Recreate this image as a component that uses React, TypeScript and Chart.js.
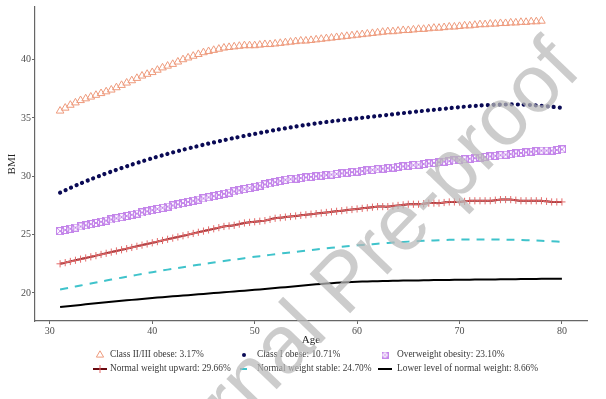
import React, { useEffect, useRef } from "react";
import { Chart, registerables } from "chart.js";

Chart.register(...registerables);

// ---------- data ----------
// yearly ages (smooth lines)
const ages = [31, 32, 33, 34, 35, 36, 37, 38, 39, 40, 41, 42, 43, 44, 45, 46, 47, 48, 49, 50,
  51, 52, 53, 54, 55, 56, 57, 58, 59, 60, 61, 62, 63, 64, 65, 66, 67, 68, 69, 70,
  71, 72, 73, 74, 75, 76, 77, 78, 79, 80];

// half-year ages (marker series)
const markerAges = [31, 31.5, 32, 32.5, 33, 33.5, 34, 34.5, 35, 35.5, 36, 36.5, 37, 37.5, 38, 38.5, 39, 39.5, 40, 40.5,
  41, 41.5, 42, 42.5, 43, 43.5, 44, 44.5, 45, 45.5, 46, 46.5, 47, 47.5, 48, 48.5, 49, 49.5, 50, 50.5,
  51, 51.5, 52, 52.5, 53, 53.5, 54, 54.5, 55, 55.5, 56, 56.5, 57, 57.5, 58, 58.5, 59, 59.5, 60, 60.5,
  61, 61.5, 62, 62.5, 63, 63.5, 64, 64.5, 65, 65.5, 66, 66.5, 67, 67.5, 68, 68.5, 69, 69.5, 70, 70.5,
  71, 71.5, 72, 72.5, 73, 73.5, 74, 74.5, 75, 75.5, 76, 76.5, 77, 77.5, 78, 78.5, 79, 79.5, 80];

const classIIIII = [35.6, 35.85, 36.1, 36.3, 36.5, 36.65, 36.8, 36.95, 37.1, 37.25, 37.4, 37.6, 37.8, 38.0, 38.2, 38.4, 38.6, 38.75, 38.9, 39.1,
  39.3, 39.45, 39.6, 39.8, 40.0, 40.15, 40.3, 40.45, 40.6, 40.7, 40.8, 40.9, 41.0, 41.05, 41.1, 41.15, 41.2, 41.2, 41.2, 41.25,
  41.3, 41.3, 41.35, 41.4, 41.45, 41.5, 41.55, 41.6, 41.6, 41.65, 41.7, 41.75, 41.8, 41.85, 41.9, 41.95, 42.0, 42.05, 42.1, 42.15,
  42.2, 42.25, 42.3, 42.35, 42.4, 42.4, 42.45, 42.5, 42.5, 42.55, 42.6, 42.6, 42.65, 42.7, 42.7, 42.75, 42.8, 42.8, 42.85, 42.9,
  42.9, 42.95, 43.0, 43.0, 43.05, 43.05, 43.1, 43.1, 43.15, 43.15, 43.2, 43.2, 43.25, 43.25, 43.3];

const classI = [28.6, 29.0, 29.38, 29.74, 30.08, 30.4, 30.7, 31.0, 31.28, 31.55, 31.8, 32.04, 32.27, 32.49, 32.7, 32.9, 33.09, 33.28, 33.46, 33.63,
  33.8, 33.96, 34.11, 34.26, 34.4, 34.53, 34.65, 34.76, 34.86, 34.96, 35.06, 35.16, 35.26, 35.36, 35.46, 35.56, 35.65, 35.74, 35.83, 35.92,
  36.0, 36.06, 36.11, 36.14, 36.15, 36.14, 36.1, 36.04, 35.96, 35.86];

const overweightObesity = [25.3, 25.4, 25.5, 25.6, 25.7, 25.8, 25.9, 26.0, 26.1, 26.2, 26.3, 26.4, 26.5, 26.6, 26.7, 26.8, 26.9, 27.0, 27.1, 27.2,
  27.3, 27.4, 27.5, 27.6, 27.7, 27.8, 27.9, 28.0, 28.1, 28.2, 28.3, 28.4, 28.5, 28.6, 28.7, 28.8, 28.9, 29.0, 29.1, 29.2,
  29.3, 29.4, 29.5, 29.6, 29.7, 29.75, 29.8, 29.85, 29.9, 29.95, 30.0, 30.05, 30.1, 30.15, 30.2, 30.25, 30.3, 30.35, 30.4, 30.45,
  30.5, 30.55, 30.6, 30.65, 30.7, 30.75, 30.8, 30.85, 30.9, 30.95, 31.0, 31.05, 31.1, 31.15, 31.2, 31.25, 31.3, 31.35, 31.4, 31.45,
  31.5, 31.55, 31.6, 31.65, 31.7, 31.75, 31.8, 31.85, 31.9, 31.95, 32.0, 32.05, 32.1, 32.15, 32.2, 32.2, 32.2, 32.25, 32.3];

const normalUpward = [22.5, 22.6, 22.7, 22.8, 22.9, 23.0, 23.1, 23.2, 23.3, 23.4, 23.5, 23.6, 23.7, 23.8, 23.9, 24.0, 24.1, 24.2, 24.3, 24.4,
  24.5, 24.6, 24.7, 24.8, 24.9, 25.0, 25.1, 25.2, 25.3, 25.4, 25.5, 25.6, 25.7, 25.75, 25.8, 25.9, 26.0, 26.05, 26.1, 26.15,
  26.2, 26.3, 26.4, 26.45, 26.5, 26.55, 26.6, 26.65, 26.7, 26.75, 26.8, 26.85, 26.9, 26.95, 27.0, 27.05, 27.1, 27.15, 27.2, 27.25,
  27.3, 27.35, 27.4, 27.4, 27.4, 27.45, 27.5, 27.55, 27.6, 27.6, 27.6, 27.65, 27.7, 27.7, 27.7, 27.75, 27.8, 27.8, 27.8, 27.85,
  27.9, 27.9, 27.9, 27.9, 27.9, 27.95, 28.0, 28.0, 28.0, 27.95, 27.9, 27.9, 27.9, 27.9, 27.9, 27.85, 27.8, 27.8, 27.8];

const normalStable = [20.3, 20.47, 20.64, 20.81, 20.98, 21.15, 21.31, 21.47, 21.63, 21.78, 21.93, 22.07, 22.21, 22.35, 22.48, 22.61, 22.74, 22.86, 22.98, 23.1,
  23.21, 23.32, 23.43, 23.53, 23.63, 23.73, 23.82, 23.91, 24.0, 24.08, 24.15, 24.22, 24.29, 24.35, 24.4, 24.45, 24.49, 24.52, 24.55, 24.57,
  24.58, 24.59, 24.59, 24.58, 24.56, 24.54, 24.51, 24.47, 24.43, 24.38];

const lowerNormal = [18.8, 18.89, 18.98, 19.07, 19.16, 19.25, 19.33, 19.41, 19.49, 19.57, 19.64, 19.71, 19.78, 19.85, 19.92, 19.99, 20.06, 20.13, 20.2, 20.27,
  20.34, 20.42, 20.5, 20.58, 20.66, 20.74, 20.81, 20.87, 20.92, 20.96, 20.99, 21.01, 21.03, 21.05, 21.07, 21.08, 21.1, 21.11, 21.12, 21.13,
  21.14, 21.15, 21.16, 21.17, 21.18, 21.19, 21.2, 21.21, 21.22, 21.23];

const seriesLabels = [
  "Class II/III obese: 3.17%",
  "Class I obese: 10.71%",
  "Overweight obesity: 23.10%",
  "Normal weight upward: 29.66%",
  "Normal weight stable: 24.70%",
  "Lower level of normal weight: 8.66%",
];

const xTicks = [30, 40, 50, 60, 70, 80];
const yTicks = [20, 25, 30, 35, 40];

// ---------- styles ----------
const C_TRI = "#EE9A7C";
const C_NAVY = "#0A0A55";
const C_PURPLE = "#C486EA";
const C_RED_LINE = "#6A0A10";
const C_RED_PT = "#E46A6A";
const C_CYAN = "#3FC3CB";
const C_BLACK = "#000000";
const SERIF = '"Liberation Serif", "DejaVu Serif", serif';

function makeBoxX(size: number, color: string) {
  const c = document.createElement("canvas");
  c.width = size;
  c.height = size;
  const g = c.getContext("2d")!;
  g.strokeStyle = color;
  g.lineWidth = 1;
  g.strokeRect(0.5, 0.5, size - 1, size - 1);
  g.beginPath();
  g.moveTo(0.5, 0.5);
  g.lineTo(size - 0.5, size - 0.5);
  g.moveTo(size - 0.5, 0.5);
  g.lineTo(0.5, size - 0.5);
  g.stroke();
  return c;
}

function toPts(xs: number[], vals: number[]) {
  return vals.map((v, i) => ({ x: xs[i], y: v }));
}

function drawSymbol(ctx: CanvasRenderingContext2D, i: number, x: number, y: number, boxImg: HTMLCanvasElement) {
  ctx.save();
  if (i === 0) {
    const r = 4.2;
    ctx.strokeStyle = C_TRI;
    ctx.lineWidth = 1;
    ctx.beginPath();
    ctx.moveTo(x, y - r);
    ctx.lineTo(x + r * 0.866, y + r * 0.5);
    ctx.lineTo(x - r * 0.866, y + r * 0.5);
    ctx.closePath();
    ctx.stroke();
  } else if (i === 1) {
    ctx.fillStyle = C_NAVY;
    ctx.beginPath();
    ctx.arc(x, y, 2, 0, Math.PI * 2);
    ctx.fill();
  } else if (i === 2) {
    ctx.drawImage(boxImg, x - boxImg.width / 2, y - boxImg.height / 2);
  } else if (i === 3) {
    ctx.strokeStyle = C_RED_LINE;
    ctx.lineWidth = 2;
    ctx.beginPath();
    ctx.moveTo(x - 7, y);
    ctx.lineTo(x + 7, y);
    ctx.stroke();
    ctx.strokeStyle = C_RED_PT;
    ctx.lineWidth = 1;
    ctx.beginPath();
    ctx.moveTo(x, y - 4);
    ctx.lineTo(x, y + 4);
    ctx.stroke();
  } else if (i === 4) {
    ctx.strokeStyle = C_CYAN;
    ctx.lineWidth = 2;
    ctx.beginPath();
    ctx.moveTo(x - 4, y);
    ctx.lineTo(x + 3, y);
    ctx.stroke();
  } else {
    ctx.strokeStyle = C_BLACK;
    ctx.lineWidth = 2;
    ctx.beginPath();
    ctx.moveTo(x - 7, y);
    ctx.lineTo(x + 7, y);
    ctx.stroke();
  }
  ctx.restore();
}

export default function App() {
  const ref = useRef<HTMLCanvasElement | null>(null);

  useEffect(() => {
    if (!ref.current) return;
    const boxImg = makeBoxX(8, C_PURPLE);
    const legendBox = makeBoxX(7, C_PURPLE);

    const legendPlugin = {
      id: "ggLegend",
      afterDraw(chart: any) {
        const ctx = chart.ctx as CanvasRenderingContext2D;
        ctx.save();
        ctx.font = `9.4px ${SERIF}`;
        ctx.fillStyle = "#3a3a3a";
        ctx.textBaseline = "middle";
        ctx.textAlign = "left";
        const symX = [100, 244, 385];
        const txtX = [110, 257, 397];
        const rowY = [355, 369];
        seriesLabels.forEach((label, i) => {
          const r = Math.floor(i / 3);
          const c = i % 3;
          drawSymbol(ctx, i, symX[c], rowY[r], legendBox);
          ctx.fillText(label, txtX[c], rowY[r]);
        });
        ctx.restore();
      },
    };

    const watermarkPlugin = {
      id: "watermark",
      afterDraw(chart: any) {
        const ctx = chart.ctx as CanvasRenderingContext2D;
        ctx.save();
        ctx.translate(583, 72);
        ctx.rotate((-46 * Math.PI) / 180);
        ctx.font = `82px "Liberation Sans", Arial, sans-serif`;
        ctx.fillStyle = "rgba(185,185,185,0.72)";
        ctx.textAlign = "right";
        ctx.textBaseline = "alphabetic";
        ctx.fillText("Journal Pre-proof", 0, 0);
        ctx.restore();
      },
    };

    const chart = new Chart(ref.current, {
      type: "line",
      data: {
        datasets: [
          {
            label: seriesLabels[0],
            data: toPts(markerAges, classIIIII),
            showLine: false,
            pointStyle: "triangle",
            pointRadius: 4.4,
            pointBorderWidth: 1,
            pointBorderColor: C_TRI,
            pointBackgroundColor: "rgba(0,0,0,0)",
            borderColor: C_TRI,
          },
          {
            label: seriesLabels[1],
            data: toPts(ages, classI),
            borderColor: C_NAVY,
            borderWidth: 4.2,
            borderDash: [0.01, 6],
            borderCapStyle: "round",
            pointRadius: 0,
            tension: 0.3,
          },
          {
            label: seriesLabels[2],
            data: toPts(markerAges, overweightObesity),
            showLine: false,
            pointStyle: boxImg as any,
            pointRadius: 4,
            borderColor: C_PURPLE,
          },
          {
            label: seriesLabels[3],
            data: toPts(markerAges, normalUpward),
            borderColor: C_RED_LINE,
            borderWidth: 2,
            pointStyle: "cross",
            pointRadius: 3.6,
            pointBorderWidth: 1,
            pointBorderColor: C_RED_PT,
            tension: 0.3,
          },
          {
            label: seriesLabels[4],
            data: toPts(ages, normalStable),
            borderColor: C_CYAN,
            borderWidth: 2,
            borderDash: [8, 7],
            pointRadius: 0,
            tension: 0.3,
          },
          {
            label: seriesLabels[5],
            data: toPts(ages, lowerNormal),
            borderColor: C_BLACK,
            borderWidth: 2,
            pointRadius: 0,
            tension: 0.3,
          },
        ],
      },
      options: {
        animation: false,
        responsive: false,
        maintainAspectRatio: false,
        events: [],
        layout: { padding: { left: 0, right: 19, top: 5, bottom: 52 } },
        plugins: {
          legend: { display: false },
          tooltip: { enabled: false },
        },
        scales: {
          x: {
            type: "linear",
            min: 28.55,
            max: 82.45,
            afterBuildTicks: (scale: any) => {
              scale.ticks = xTicks.map((v) => ({ value: v }));
            },
            afterFit: (scale: any) => {
              scale.height = 26;
            },
            grid: { display: true, drawOnChartArea: false, drawTicks: true, tickLength: 3, color: "#666" },
            border: { display: true, color: "#666", width: 1.2 },
            ticks: { font: { family: SERIF, size: 10 }, color: "#4d4d4d", padding: 1, maxRotation: 0 },
            title: { display: true, text: "Age", font: { family: SERIF, size: 11 }, color: "#222", padding: { top: 0, bottom: 0 } },
          },
          y: {
            type: "linear",
            min: 17.6,
            max: 44.5,
            afterBuildTicks: (scale: any) => {
              scale.ticks = yTicks.map((v) => ({ value: v }));
            },
            afterFit: (scale: any) => {
              scale.width = 35;
            },
            grid: { display: true, drawOnChartArea: false, drawTicks: true, tickLength: 3, color: "#666" },
            border: { display: true, color: "#666", width: 1.2 },
            ticks: { font: { family: SERIF, size: 10 }, color: "#4d4d4d", padding: 1 },
            title: { display: true, text: "BMI", font: { family: SERIF, size: 11 }, color: "#222", padding: { top: 6, bottom: 0 } },
          },
        },
      },
      plugins: [legendPlugin, watermarkPlugin],
    } as any);

    return () => chart.destroy();
  }, []);

  return (
    <div style={{ position: "fixed", left: 0, top: 0, width: 606, height: 399, background: "#fff" }}>
      <canvas ref={ref} width={606} height={399} style={{ width: 606, height: 399, display: "block" }} />
    </div>
  );
}
